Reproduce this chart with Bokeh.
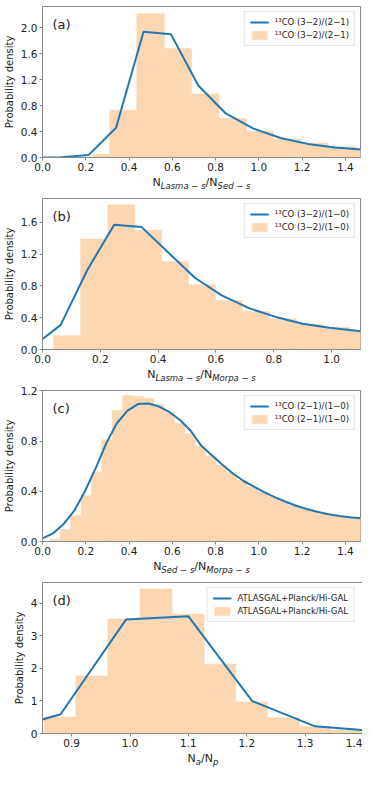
from bokeh.plotting import figure
from bokeh.layouts import column
from bokeh.models import (Range1d, FixedTicker, NumeralTickFormatter, Label,
                          Legend, LegendItem)
from bokeh.embed import file_html
from bokeh.resources import INLINE

# ---------------- data ----------------
# panel (a)
a_edges = [0.232, 0.311, 0.436, 0.563, 0.689, 0.815, 0.942, 1.068, 1.194, 1.321, 1.448, 1.574]
a_heights = [0.05, 0.73, 2.22, 1.68, 0.98, 0.60, 0.405, 0.283, 0.22, 0.165, 0.125]
a_line_x = [-0.04, 0.087, 0.214, 0.34, 0.467, 0.594, 0.72, 0.847, 0.973, 1.10, 1.226, 1.352, 1.479]
a_line_y = [0.0, 0.005, 0.04, 0.46, 1.94, 1.90, 1.11, 0.68, 0.45, 0.30, 0.21, 0.155, 0.12]
a_label = "¹³CO (3−2)/(2−1)"

# panel (b)
b_edges = [0.039, 0.132, 0.226, 0.319, 0.412, 0.505, 0.598, 0.691, 0.785, 0.878, 0.971, 1.064, 1.157]
b_heights = [0.174, 1.39, 1.82, 1.50, 1.106, 0.815, 0.617, 0.478, 0.386, 0.318, 0.278, 0.24]
b_line_x = [-0.03, 0.063, 0.155, 0.248, 0.343, 0.435, 0.528, 0.62, 0.714, 0.807, 0.90, 0.993, 1.086, 1.18]
b_line_y = [0.045, 0.31, 1.0, 1.57, 1.54, 1.22, 0.90, 0.68, 0.52, 0.41, 0.325, 0.275, 0.235, 0.205]
b_label = "¹³CO (3−2)/(1−0)"

# panel (c)
c_edges = [0.034, 0.082, 0.130, 0.178, 0.226, 0.274, 0.322, 0.370, 0.418, 0.466, 0.514,
           0.562, 0.610, 0.658, 0.706, 0.754, 0.802, 0.850, 0.898, 0.946, 0.994, 1.042,
           1.090, 1.138, 1.186, 1.234, 1.282, 1.330, 1.378, 1.426, 1.474]
c_heights = [0.018, 0.095, 0.21, 0.364, 0.55, 0.81, 1.043, 1.164, 1.155, 1.14, 1.09, 1.03,
             0.94, 0.86, 0.76, 0.68, 0.61, 0.55, 0.485, 0.435, 0.395, 0.355, 0.318, 0.287,
             0.262, 0.24, 0.222, 0.207, 0.196, 0.186]
c_line_x = [0.0, 0.049, 0.098, 0.147, 0.196, 0.245, 0.294, 0.343, 0.392, 0.441, 0.49,
            0.539, 0.588, 0.637, 0.686, 0.735, 0.784, 0.833, 0.882, 0.931, 0.98, 1.029,
            1.078, 1.127, 1.176, 1.225, 1.274, 1.323, 1.372, 1.421, 1.47]
c_line_y = [0.025, 0.065, 0.14, 0.245, 0.40, 0.58, 0.78, 0.94, 1.04, 1.095, 1.10, 1.075,
            1.03, 0.966, 0.88, 0.76, 0.685, 0.61, 0.54, 0.48, 0.435, 0.39, 0.35, 0.315,
            0.283, 0.257, 0.235, 0.217, 0.203, 0.193, 0.185]
c_label = "¹³CO (2−1)/(1−0)"

# panel (d)
d_edges = [0.853, 0.907, 0.962, 1.017, 1.072, 1.127, 1.181, 1.235, 1.29, 1.344, 1.398]
d_heights = [0.51, 1.77, 3.52, 4.44, 3.67, 2.13, 0.97, 0.485, 0.21, 0.11]
d_line_x = [0.772, 0.881, 0.993, 1.10, 1.209, 1.317, 1.426]
d_line_y = [0.03, 0.59, 3.50, 3.60, 1.00, 0.22, 0.065]
d_label = "ATLASGAL+Planck/Hi-GAL"

ticks_x_ac = [0.0, 0.2, 0.4, 0.6, 0.8, 1.0, 1.2, 1.4]
ticks_x_b = [0.0, 0.2, 0.4, 0.6, 0.8, 1.0]
ticks_x_d = [0.9, 1.0, 1.1, 1.2, 1.3, 1.4]
ticks_y_a = [0.0, 0.4, 0.8, 1.2, 1.6, 2.0]
ticks_y_b = [0.0, 0.4, 0.8, 1.2, 1.6]
ticks_y_c = [0.0, 0.4, 0.8, 1.2]
ticks_y_d = [0, 1, 2, 3, 4]

# ---------------- style ----------------
FONT = "DejaVu Sans"
LINE_C = "#1f77b4"
FILL_C = "#fdd6b2"
FRAME_C = "#8a8a8a"
TEXT_C = "#222222"
FH = 151          # frame height of each panel
TOP, BOT = 6, 17  # borders of each panel
LH = 18           # height of the strip holding the x-axis title

W = {"N": .748, "L": .557, "a": .613, "s": .521, "m": .974, " ": .318, "−": .838,
     "S": .635, "e": .615, "d": .635, "M": .863, "o": .612, "r": .411, "p": .635,
     "/": .337}


def tw(s, size):
    return sum(W.get(ch, 0.6) for ch in s) * size


def make_fig(xr, yr, fw, bl, br, xt, yt, yfmt, legend_text, edges, heights, lx, ly, tag):
    p = figure(frame_width=fw, frame_height=FH, x_range=Range1d(*xr), y_range=Range1d(*yr),
               output_backend="svg", toolbar_location=None,
               min_border_left=bl, min_border_right=br, min_border_top=TOP,
               min_border_bottom=BOT)
    p.xgrid.visible = False
    p.ygrid.visible = False
    p.outline_line_color = FRAME_C
    p.outline_line_width = 1
    p.background_fill_color = "white"

    qr = p.quad(left=edges[:-1], right=edges[1:], bottom=0, top=heights,
                fill_color=FILL_C, line_color=FILL_C, line_width=0.6)
    lr = p.line(lx, ly, line_color=LINE_C, line_width=2)

    for ax in (p.xaxis[0], p.yaxis[0]):
        ax.axis_line_color = FRAME_C
        ax.major_tick_line_color = FRAME_C
        ax.minor_tick_line_color = None
        ax.major_tick_out = 3
        ax.major_tick_in = 0
        ax.major_label_text_font = FONT
        ax.major_label_text_font_size = "10.5px"
        ax.major_label_text_color = TEXT_C
        ax.major_label_standoff = 2
    p.xaxis.ticker = FixedTicker(ticks=xt)
    p.yaxis.ticker = FixedTicker(ticks=yt)
    p.xaxis.formatter = NumeralTickFormatter(format="0.0")
    p.yaxis.formatter = NumeralTickFormatter(format=yfmt)
    p.yaxis.axis_label = "Probability density"
    p.yaxis.axis_label_text_font = FONT
    p.yaxis.axis_label_text_font_size = "10px"
    p.yaxis.axis_label_text_font_style = "normal"
    p.yaxis.axis_label_text_color = TEXT_C
    p.yaxis.axis_label_standoff = 3

    legend = Legend(items=[LegendItem(label=legend_text, renderers=[lr]),
                           LegendItem(label=legend_text, renderers=[qr])],
                    location="top_right")
    legend.label_text_font = FONT
    legend.label_text_font_size = "8.5px"
    legend.label_text_color = TEXT_C
    legend.glyph_width = 19
    legend.glyph_height = 10
    legend.label_height = 10
    legend.label_standoff = 6
    legend.spacing = 3
    legend.padding = 5
    legend.margin = 5
    legend.border_line_color = "#cccccc"
    legend.background_fill_alpha = 0.85
    p.add_layout(legend)

    ppx = fw / (xr[1] - xr[0])
    ppy = FH / (yr[1] - yr[0])
    p.add_layout(Label(x=xr[0] + 10 / ppx, y=yr[1] - 18 / ppy, text=tag,
                       text_font=FONT, text_font_size="13px", text_color=TEXT_C,
                       text_baseline="alphabetic", text_align="left"))
    return p


def make_title_strip(fw, bl, br, parts):
    """A strip under a panel that carries its x-axis title (with subscripts)."""
    s = figure(frame_width=fw, frame_height=LH, x_range=Range1d(0, 1), y_range=Range1d(0, 1),
               output_backend="svg", toolbar_location=None, min_border_left=bl,
               min_border_right=br, min_border_top=0, min_border_bottom=0,
               x_axis_type=None, y_axis_type=None)
    s.outline_line_color = None
    s.xgrid.visible = False
    s.ygrid.visible = False
    total = sum(tw(t, sz) for t, sz, it, sub in parts)
    cx = fw / 2 - total / 2
    for t, sz, it, sub in parts:
        base = 10 - (3 if sub else 0)
        s.add_layout(Label(x=cx, y=base, x_units="screen", y_units="screen", text=t,
                           text_font=FONT, text_font_size=f"{sz}px",
                           text_font_style="italic" if it else "normal",
                           text_color=TEXT_C, text_baseline="alphabetic",
                           text_align="left"))
        cx += tw(t, sz)
    return s


def lab(a, b):
    return [("N", 11, False, False), (a, 8.5, True, True), ("/N", 11, False, False),
            (b, 8.5, True, True)]


pa = make_fig((0, 1.47), (0, 2.33), 318, 36, 4, ticks_x_ac, ticks_y_a, "0.0", a_label,
              a_edges, a_heights, a_line_x, a_line_y, "(a)")
sa = make_title_strip(318, 36, 4, lab("Lasma − s", "Sed − s"))
pb = make_fig((0, 1.1), (0, 1.90), 318, 36, 4, ticks_x_b, ticks_y_b, "0.0", b_label,
              b_edges, b_heights, b_line_x, b_line_y, "(b)")
sb = make_title_strip(318, 36, 4, lab("Lasma − s", "Morpa − s"))
pc = make_fig((0, 1.47), (0, 1.203), 318, 36, 4, ticks_x_ac, ticks_y_c, "0.0", c_label,
              c_edges, c_heights, c_line_x, c_line_y, "(c)")
sc = make_title_strip(318, 36, 4, lab("Sed − s", "Morpa − s"))
pd = make_fig((0.85, 1.4), (0, 4.64), 321, 28, 9, ticks_x_d, ticks_y_d, "0", d_label,
              d_edges, d_heights, d_line_x, d_line_y, "(d)")
sd = make_title_strip(321, 28, 9, lab("a", "p"))

layout = column(pa, sa, pb, sb, pc, sc, pd, sd, spacing=0)
open("out.html", "w").write(file_html(layout, INLINE))
